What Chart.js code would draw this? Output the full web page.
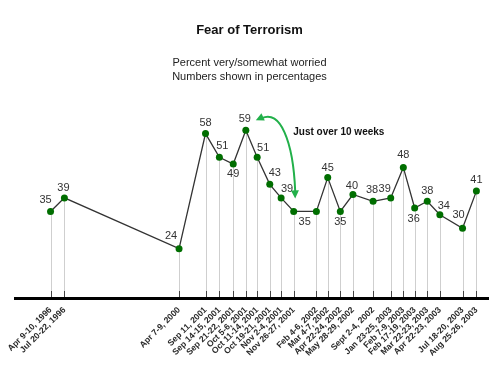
<!DOCTYPE html>
<html><head><meta charset="utf-8">
<script src="https://cdn.jsdelivr.net/npm/chart.js@4.4.0/dist/chart.umd.min.js"></script>
<style>html,body{margin:0;padding:0;background:#fff;}#wrap{width:499px;height:369px;position:relative;}</style>
</head><body><div id="wrap"><canvas id="c" width="499" height="369"></canvas></div>
<script>
const categories = ["Apr 9-10, 1996","Jul 20-22, 1996","Apr 7-9, 2000","Sep 11, 2001","Sep 14-15, 2001","Sep 21-22, 2001","Oct 5-6, 2001","Oct 11-14, 2001","Oct 19-21, 2001","Nov 2-4, 2001","Nov 26-27, 2001","Feb 4-6, 2002","Mar 4-7, 2002","Apr 22-24, 2002","May 28-29, 2002","Sept 2-4, 2002","Jan 23-25, 2003","Feb 7-9, 2003","Feb 17-19, 2003","Mar 22-23, 2003","Apr 22-23, 2003","Jul 18-20, 2003","Aug 25-26, 2003"];
const worried = [35,39,24,58,51,49,59,51,43,39,35,35,45,35,40,38,39,48,36,38,34,30,41];
const axisPositions = [2.9,4.0,13.1,15.2,16.3,17.4,18.4,19.3,20.3,21.2,22.2,24.0,24.9,25.9,26.9,28.5,29.9,30.9,31.8,32.8,33.8,35.6,36.7];
const titleText = "Fear of Terrorism";
const subtitleLines = ["Percent very/somewhat worried","Numbers shown in percentages"];
const annotationText = "Just over 10 weeks";

// label placement (style): offset of value label from its point, null = not shown
const labelPlacement = [[-5,-11],[-1,-10],[-8,-13],[0,-11],[3,-11],[0,10],[-1,-11],[6,-9],[5,-11],[6,-9],[11,11],null,[0,-10],[0,11],[-1,-9],[-1,-11],[-6,-9],[0,-12],[-1,11],[0,-10],[4,-9],[-4,-13],[0,-11]];

const FONT = '"Liberation Sans", Arial, Helvetica, sans-serif';

const points = axisPositions.map((x,i)=>({x:x,y:worried[i]}));

function arrowHead(ctx, tipX, tipY, fromX, fromY, len, half){
  const a = Math.atan2(tipY-fromY, tipX-fromX);
  ctx.beginPath();
  ctx.moveTo(tipX, tipY);
  ctx.lineTo(tipX - len*Math.cos(a) + half*Math.sin(a), tipY - len*Math.sin(a) - half*Math.cos(a));
  ctx.lineTo(tipX - len*Math.cos(a) - half*Math.sin(a), tipY - len*Math.sin(a) + half*Math.cos(a));
  ctx.closePath();
  ctx.fill();
}

const decor = {
  id:'decor',
  beforeDatasetsDraw(chart){
    const ctx = chart.ctx, ca = chart.chartArea;
    const meta = chart.getDatasetMeta(0);
    const axisY = ca.bottom + 2;
    ctx.save();
    ctx.strokeStyle = '#cfcfcf'; ctx.lineWidth = 1;
    meta.data.forEach(el=>{
      const x = Math.round(el.x)+0.5;
      ctx.beginPath(); ctx.moveTo(x, el.y); ctx.lineTo(x, axisY); ctx.stroke();
    });
    ctx.strokeStyle = '#444'; ctx.lineWidth = 1;
    const xs = chart.scales.x;
    xs.ticks.forEach(t=>{
      const x = Math.round(xs.getPixelForValue(t.value))+0.5;
      ctx.beginPath(); ctx.moveTo(x, axisY-7); ctx.lineTo(x, axisY); ctx.stroke();
    });
    ctx.strokeStyle = '#000'; ctx.lineWidth = 3;
    ctx.beginPath(); ctx.moveTo(ca.left, axisY+0.5); ctx.lineTo(ca.right, axisY+0.5); ctx.stroke();
    ctx.restore();
  },
  afterDatasetsDraw(chart){
    const ctx = chart.ctx;
    const meta = chart.getDatasetMeta(0);
    ctx.save();
    ctx.font = '11px ' + FONT;
    ctx.fillStyle = '#333';
    ctx.textAlign = 'center'; ctx.textBaseline = 'middle';
    meta.data.forEach((el,i)=>{
      const p = labelPlacement[i];
      if(!p) return;
      ctx.fillText(String(worried[i]), el.x + p[0], el.y + p[1]);
    });
    const a = meta.data[6], b = meta.data[10];
    const p0 = {x:a.x+12, y:a.y-11};
    const p3 = {x:b.x+1.5, y:b.y-15};
    const p1 = {x:p0.x+22, y:p0.y-10};
    const p2 = {x:p3.x-2, y:p3.y-56};
    ctx.strokeStyle = '#22b04a'; ctx.fillStyle = '#22b04a'; ctx.lineWidth = 2;
    ctx.beginPath(); ctx.moveTo(p0.x+4, p0.y-1); ctx.bezierCurveTo(p1.x,p1.y,p2.x,p2.y,p3.x,p3.y-5); ctx.stroke();
    arrowHead(ctx, p0.x-2, p0.y+1, p1.x, p1.y, 8, 4);
    arrowHead(ctx, p3.x, p3.y+2, p2.x, p2.y, 8, 4);
    ctx.fillStyle = '#111';
    ctx.font = 'bold 10px ' + FONT;
    ctx.textAlign = 'left';
    ctx.fillText(annotationText, p3.x - 2, a.y + 2);
    ctx.textAlign = 'center';
    ctx.font = 'bold 13px ' + FONT;
    ctx.fillStyle = '#111';
    ctx.fillText(titleText, 249.5, 30);
    ctx.font = '11px ' + FONT;
    ctx.fillStyle = '#222';
    subtitleLines.forEach((s,i)=>ctx.fillText(s, 249.5, 63 + i*14));
    ctx.restore();
  }
};

new Chart(document.getElementById('c'), {
  type:'line',
  data:{datasets:[{
    data: points,
    borderColor:'#333', borderWidth:1.3,
    pointBackgroundColor:'#006e00', pointBorderColor:'#006e00',
    pointRadius:3.5, pointBorderWidth:0, tension:0
  }]},
  options:{
    responsive:false, animation:false, devicePixelRatio:1,
    layout:{padding:{top:93,left:14,right:10,bottom:0}},
    plugins:{legend:{display:false},tooltip:{enabled:false},title:{display:false}},
    scales:{
      x:{
        type:'linear', min:0, max:37.7,
        grid:{display:false, drawTicks:false},
        border:{display:false},
        afterBuildTicks(scale){ scale.ticks = axisPositions.map(v=>({value:v})); },
        afterFit(scale){ scale.height = 73; scale.paddingLeft = 0; scale.paddingRight = 0; },
        ticks:{
          autoSkip:false, minRotation:45, maxRotation:45, padding:9,
          color:'#2a2a2a', font:{family:FONT, size:8.6, weight:'bold'},
          callback:(v,i)=>categories[i]
        }
      },
      y:{display:false, min:10, max:70}
    }
  },
  plugins:[decor]
});
</script></body></html>
